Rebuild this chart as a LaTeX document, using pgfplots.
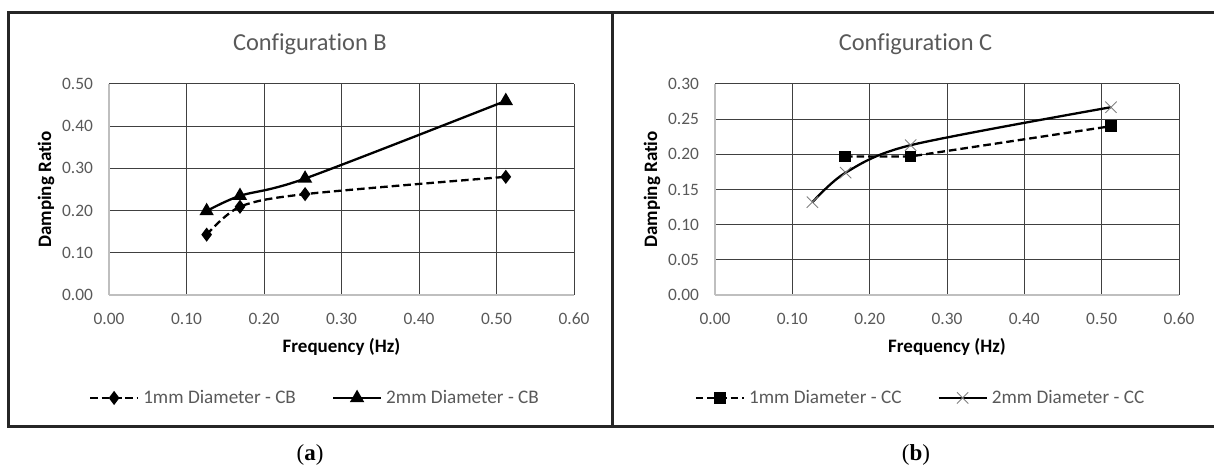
\documentclass[border=0pt]{standalone}
\usepackage{pgfplots}
\pgfplotsset{compat=1.18}
\usepackage{fontspec}
\setmainfont{Carlito}[Ligatures=CommonOff]
\newfontfamily\capfont{Liberation Serif}
\definecolor{txtgray}{HTML}{595959}
\definecolor{gridc}{HTML}{404040}
\definecolor{axisc}{HTML}{BFBFBF}
\definecolor{xgray}{HTML}{808080}

\pgfplotsset{
  cfg/.style={
    scale only axis,
    width=232.5pt, height=105.5pt,
    anchor=south west,
    xmin=0, xmax=0.6,
    xtick={0,0.1,0.2,0.3,0.4,0.5,0.6},
    axis x line*=bottom, axis y line*=left,
    axis line style={draw=axisc, line width=0.8pt, -},
    grid=major,
    major grid style={draw=gridc, line width=0.5pt},
    major tick length=0pt,
    /pgf/number format/assume math mode=true,
    /pgf/number format/.cd, fixed, fixed zerofill, precision=2, /pgfplots/.cd,
    tick label style={font=\fontsize{8.7}{10}\selectfont, text=txtgray},
    xticklabel shift=5.5pt,
    yticklabel shift=4.5pt,
    title style={font=\fontsize{12.2}{14}\selectfont, text=txtgray, anchor=center},
    xlabel={Frequency (Hz)},
    ylabel={Damping Ratio},
    xlabel style={font=\bfseries\fontsize{9.5}{11}\selectfont, at={(0.5,-0.246)}, anchor=center},
    ylabel style={font=\bfseries\fontsize{9.5}{11}\selectfont, at={(-0.1355,0.5)}, anchor=center},
    legend columns=2,
    legend style={draw=none, fill=none, anchor=center, font=\fontsize{9.6}{11}\selectfont, text=txtgray,
      /tikz/every even column/.append style={column sep=16pt}},
    legend image code/.code={\draw[mark repeat=2,mark phase=2,#1] plot coordinates {(0pt,0pt)(12pt,0pt)(24pt,0pt)};},
    clip=false,
  },
  s1/.style={black, line width=1.15pt, dash pattern=on 3.8pt off 2pt, mark options={solid}},
  s2/.style={black, line width=1.15pt, mark options={solid}},
}

\begin{document}
\begin{tikzpicture}
\useasboundingbox (0,0) rectangle (607pt,234.5pt);
% panel frames
\draw[black!85, line width=1.1pt] (4.25pt,228.25pt) rectangle (306pt,21.25pt);
\draw[black!85, line width=1.1pt] (306.6pt,228.25pt) -- (306.6pt,21.25pt);
\draw[black!85, line width=1.1pt] (306.6pt,228.25pt) -- (608pt,228.25pt);
\draw[black!85, line width=1.1pt] (306.6pt,21.25pt) -- (608pt,21.25pt);

\begin{axis}[cfg, at={(54.5pt,87pt)},
  ymin=0, ymax=0.5, ytick={0,0.1,0.2,0.3,0.4,0.5},
  title={Configuration B},
  title style={at={(0.432,1.133)}},
  legend style={at={(0.445,-0.488)}},
]
\addplot[s1, smooth, mark=diamond*, mark size=2.6pt] coordinates {
  (0.126,0.143) (0.169,0.209) (0.253,0.239) (0.512,0.280)};
\addlegendentry{1mm Diameter - CB}
\addplot[s2, smooth, mark=triangle*, mark size=3pt] coordinates {
  (0.126,0.199) (0.169,0.235) (0.253,0.276) (0.512,0.460)};
\addlegendentry{2mm Diameter - CB}
\end{axis}

\begin{axis}[cfg, at={(357.5pt,87pt)}, width=232pt,
  ymin=0, ymax=0.3, ytick={0,0.05,0.1,0.15,0.2,0.25,0.3},
  title={Configuration C},
  title style={at={(0.432,1.133)}},
  legend style={at={(0.445,-0.488)}},
]
\addplot[s1, mark=square*, mark size=2.3pt] coordinates {
  (0.168,0.197) (0.253,0.197) (0.512,0.240)};
\addlegendentry{1mm Diameter - CC}
\addplot[s2, smooth, mark=x, mark size=4pt, mark options={draw=xgray, line width=0.45pt}] coordinates {
  (0.126,0.132) (0.169,0.174) (0.253,0.213) (0.512,0.267)};
\addlegendentry{2mm Diameter - CC}
\end{axis}

\node[font=\capfont\fontsize{11.5}{13}\selectfont] at (155pt,7pt) {(\textbf{a})};
\node[font=\capfont\fontsize{11.5}{13}\selectfont] at (458pt,7pt) {(\textbf{b})};
\end{tikzpicture}
\end{document}
